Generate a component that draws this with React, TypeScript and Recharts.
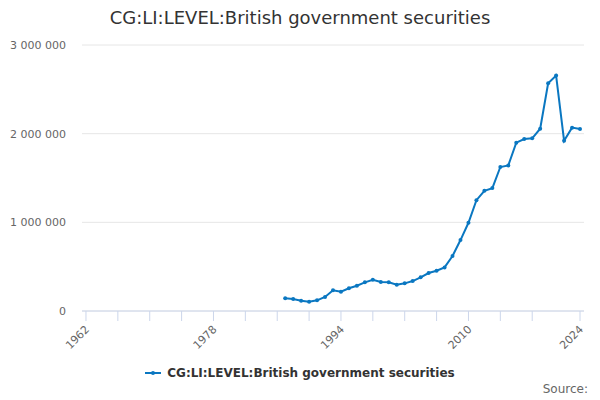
import { LineChart, Line, XAxis, YAxis, CartesianGrid } from 'recharts';

const years = [
  1987, 1988, 1989, 1990, 1991, 1992, 1993, 1994, 1995, 1996,
  1997, 1998, 1999, 2000, 2001, 2002, 2003, 2004, 2005, 2006,
  2007, 2008, 2009, 2010, 2011, 2012, 2013, 2014, 2015, 2016,
  2017, 2018, 2019, 2020, 2021, 2022, 2023, 2024,
];

const securities = [
  143000, 135000, 116000, 105000, 120000, 158000, 233000, 218000, 256000, 285000,
  323000, 353000, 327000, 323000, 297000, 312000, 338000, 380000, 428000, 454000,
  492000, 620000, 800000, 995000, 1250000, 1356000, 1386000, 1624000, 1642000, 1898000,
  1940000, 1947000, 2056000, 2568000, 2655000, 1921000, 2068000, 2053000,
];

const xTicks = [1962, 1966, 1970, 1974, 1978, 1982, 1986, 1990, 1994, 1998, 2002, 2006, 2010, 2014, 2018, 2024];
const xLabels = [1962, 1978, 1994, 2010, 2024];
const yTicks = [0, 1000000, 2000000, 3000000];

const seriesName = 'CG:LI:LEVEL:British government securities';
const lineColor = '#0a77c1';
const font = '"DejaVu Sans", Verdana, sans-serif';

const chartData = years.map((year, i) => ({ year, value: securities[i] }));

const formatNumber = (v: number) => v.toString().replace(/\B(?=(\d{3})+(?!\d))/g, ' ');

function YearTick(props: any) {
  const { x, y, payload } = props;
  if (!xLabels.includes(payload.value)) return null;
  const tx = x + 4;
  const ty = y + 7;
  return (
    <text
      x={tx}
      y={ty}
      textAnchor="end"
      fontSize={11}
      fill="#666"
      fontFamily={font}
      transform={`rotate(-45, ${tx}, ${ty})`}
    >
      {payload.value}
    </text>
  );
}

export default function App() {
  return (
    <div style={{ position: 'relative', width: 600, height: 400, fontFamily: font, background: '#fff' }}>
      <style>{'body{margin:0}'}</style>
      <div
        style={{
          position: 'absolute', top: 7, left: 0, width: 600, textAlign: 'center',
          fontSize: 18, color: '#333', lineHeight: '22px',
        }}
      >
        {seriesName}
      </div>
      <LineChart width={600} height={400} data={chartData} margin={{ top: 45, right: 16, left: 8, bottom: 39 }}>
        <CartesianGrid vertical={false} stroke="#e6e6e6" />
        <XAxis
          dataKey="year"
          type="number"
          domain={[1961.5, 2024.5]}
          ticks={xTicks}
          interval={0}
          height={50}
          stroke="#ccd6eb"
          tickSize={10}
          tick={<YearTick />}
        />
        <YAxis
          domain={[0, 3000000]}
          ticks={yTicks}
          width={74}
          axisLine={false}
          tickLine={false}
          tickSize={0}
          tickMargin={16}
          tickFormatter={formatNumber}
          tick={{ fontSize: 11, fill: '#666', fontFamily: font }}
        />
        <Line
          dataKey="value"
          stroke={lineColor}
          strokeWidth={2}
          dot={{ r: 2, fill: lineColor, stroke: lineColor, strokeWidth: 0 }}
          isAnimationActive={false}
        />
      </LineChart>
      <div
        style={{
          position: 'absolute', top: 366, left: 0, width: 600, display: 'flex',
          justifyContent: 'center', alignItems: 'center',
        }}
      >
        <svg width={16} height={10} style={{ marginRight: 6 }}>
          <line x1={0} y1={5} x2={16} y2={5} stroke={lineColor} strokeWidth={2} />
          <circle cx={8} cy={5} r={2} fill={lineColor} />
        </svg>
        <span style={{ fontSize: 12, fontWeight: 'bold', color: '#333' }}>{seriesName}</span>
      </div>
      <div style={{ position: 'absolute', top: 382, right: 12, fontSize: 12, color: '#666' }}>Source:</div>
    </div>
  );
}
